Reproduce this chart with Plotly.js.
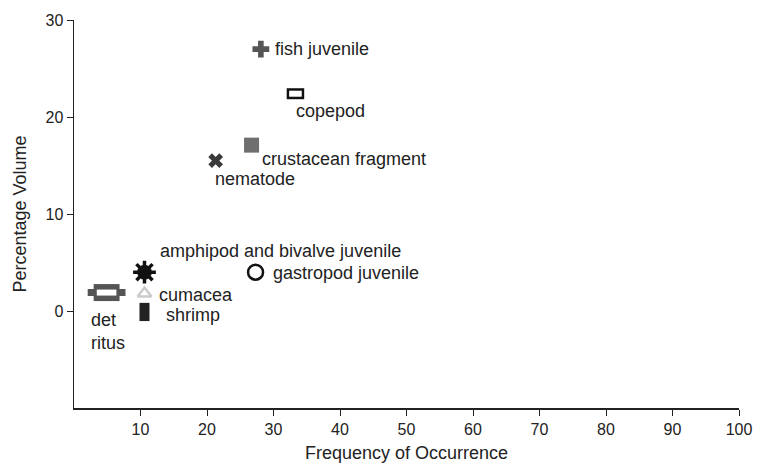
<!DOCTYPE html>
<html>
<head>
<meta charset="utf-8">
<script src="https://cdn.plot.ly/plotly-3.0.1.min.js"></script>
<style>html,body{margin:0;padding:0;background:#fff;}#chart{width:757px;height:466px;}</style>
</head>
<body>
<div id="chart"></div>
<script>
// ---- data ----
const labels = ['fish juvenile', 'copepod', 'crustacean fragment', 'nematode',
  'amphipod and bivalve juvenile', 'gastropod juvenile', 'cumacea', 'shrimp', 'det<br>ritus'];
const freq = [28.1, 33.3, 26.7, 21.3, 10.6, 27.3, 10.6, 10.6, 4.9];
const vol  = [27.0, 22.4, 17.1, 15.5, 4.0, 4.0, 1.8, -0.1, 1.9];
const xTicks = [10, 20, 30, 40, 50, 60, 70, 80, 90, 100];
const yTicks = [0, 10, 20, 30];

// ---- label offsets in pixels (style, not data) ----
const labelDx = [12, -1, 8, -3, 14, 15, 13, 20, -18];
const labelDy = [0, 17, 14, 18, -21, 1, 1, 3, 39];

const FONT = 'Arial, "Liberation Sans", sans-serif';

// marker layers: each entry draws point i with a given symbol style
const layers = [
  {i: 0, symbol: 'cross', size: 14, color: '#555555'},
  {i: 1, symbol: 'line-ew', size: 12.5, lw: 11, lc: '#111111'},
  {i: 1, symbol: 'line-ew', size: 9, lw: 6, lc: '#ffffff'},
  {i: 2, symbol: 'square', size: 15, color: '#6f6f6f'},
  {i: 3, symbol: 'x', size: 13, color: '#3a3a3a'},
  {i: 4, symbol: 'asterisk-open', size: 19, lw: 3.5, lc: '#111111'},
  {i: 4, symbol: 'octagon', size: 15, color: '#111111'},
  {i: 5, symbol: 'circle-open', size: 15, lw: 2.5, lc: '#111111'},
  {i: 6, symbol: 'triangle-up-open', size: 12, lw: 2.5, lc: '#cccccc'},
  {i: 7, symbol: 'line-ns', size: 13, lw: 10, lc: '#222222'},
  {i: 8, symbol: 'line-ew', size: 27, lw: 7, lc: '#555555'},
  {i: 8, symbol: 'line-ew', size: 18.5, lw: 17, lc: '#555555'},
  {i: 8, symbol: 'line-ew', size: 14, lw: 6, lc: '#ffffff'}
];

const traces = layers.map(L => {
  const m = {symbol: L.symbol, size: L.size};
  if (L.color) { m.color = L.color; m.line = {width: 0}; }
  else { m.color = L.lc; m.line = {width: L.lw, color: L.lc}; }
  return {
    type: 'scatter', mode: 'markers',
    x: [freq[L.i]], y: [vol[L.i]],
    marker: m, showlegend: false, hoverinfo: 'skip', cliponaxis: false
  };
});

const annotations = labels.map((t, i) => ({
  x: freq[i], y: vol[i], xref: 'x', yref: 'y',
  text: t, showarrow: false, xanchor: 'left', yanchor: 'middle', align: 'left',
  xshift: labelDx[i], yshift: -labelDy[i],
  font: {family: FONT, size: 18, color: '#222222'}
}));

const layout = {
  width: 757, height: 466,
  margin: {l: 74, r: 18, t: 20, b: 58},
  paper_bgcolor: '#ffffff', plot_bgcolor: '#ffffff',
  showlegend: false,
  font: {family: FONT, color: '#222222'},
  xaxis: {
    range: [0, 100], tickvals: xTicks, ticktext: xTicks.map(String),
    ticks: 'outside', ticklen: 6, tickwidth: 1, tickcolor: '#222',
    showline: true, linecolor: '#222', linewidth: 1.5,
    showgrid: false, zeroline: false,
    tickfont: {family: FONT, size: 16, color: '#222'},
    title: {text: 'Frequency of Occurrence', font: {family: FONT, size: 18, color: '#222'}, standoff: 9}
  },
  yaxis: {
    range: [-10, 30], tickvals: yTicks, ticktext: yTicks.map(String),
    ticks: 'outside', ticklen: 6, tickwidth: 1, tickcolor: '#222',
    showline: true, linecolor: '#222', linewidth: 1.5,
    showgrid: false, zeroline: false,
    tickfont: {family: FONT, size: 16, color: '#222'},
    title: {text: 'Percentage Volume', font: {family: FONT, size: 18, color: '#222'}, standoff: 14}
  },
  annotations: annotations
};

Plotly.newPlot('chart', traces, layout, {displayModeBar: false, staticPlot: true});
</script>
</body>
</html>
